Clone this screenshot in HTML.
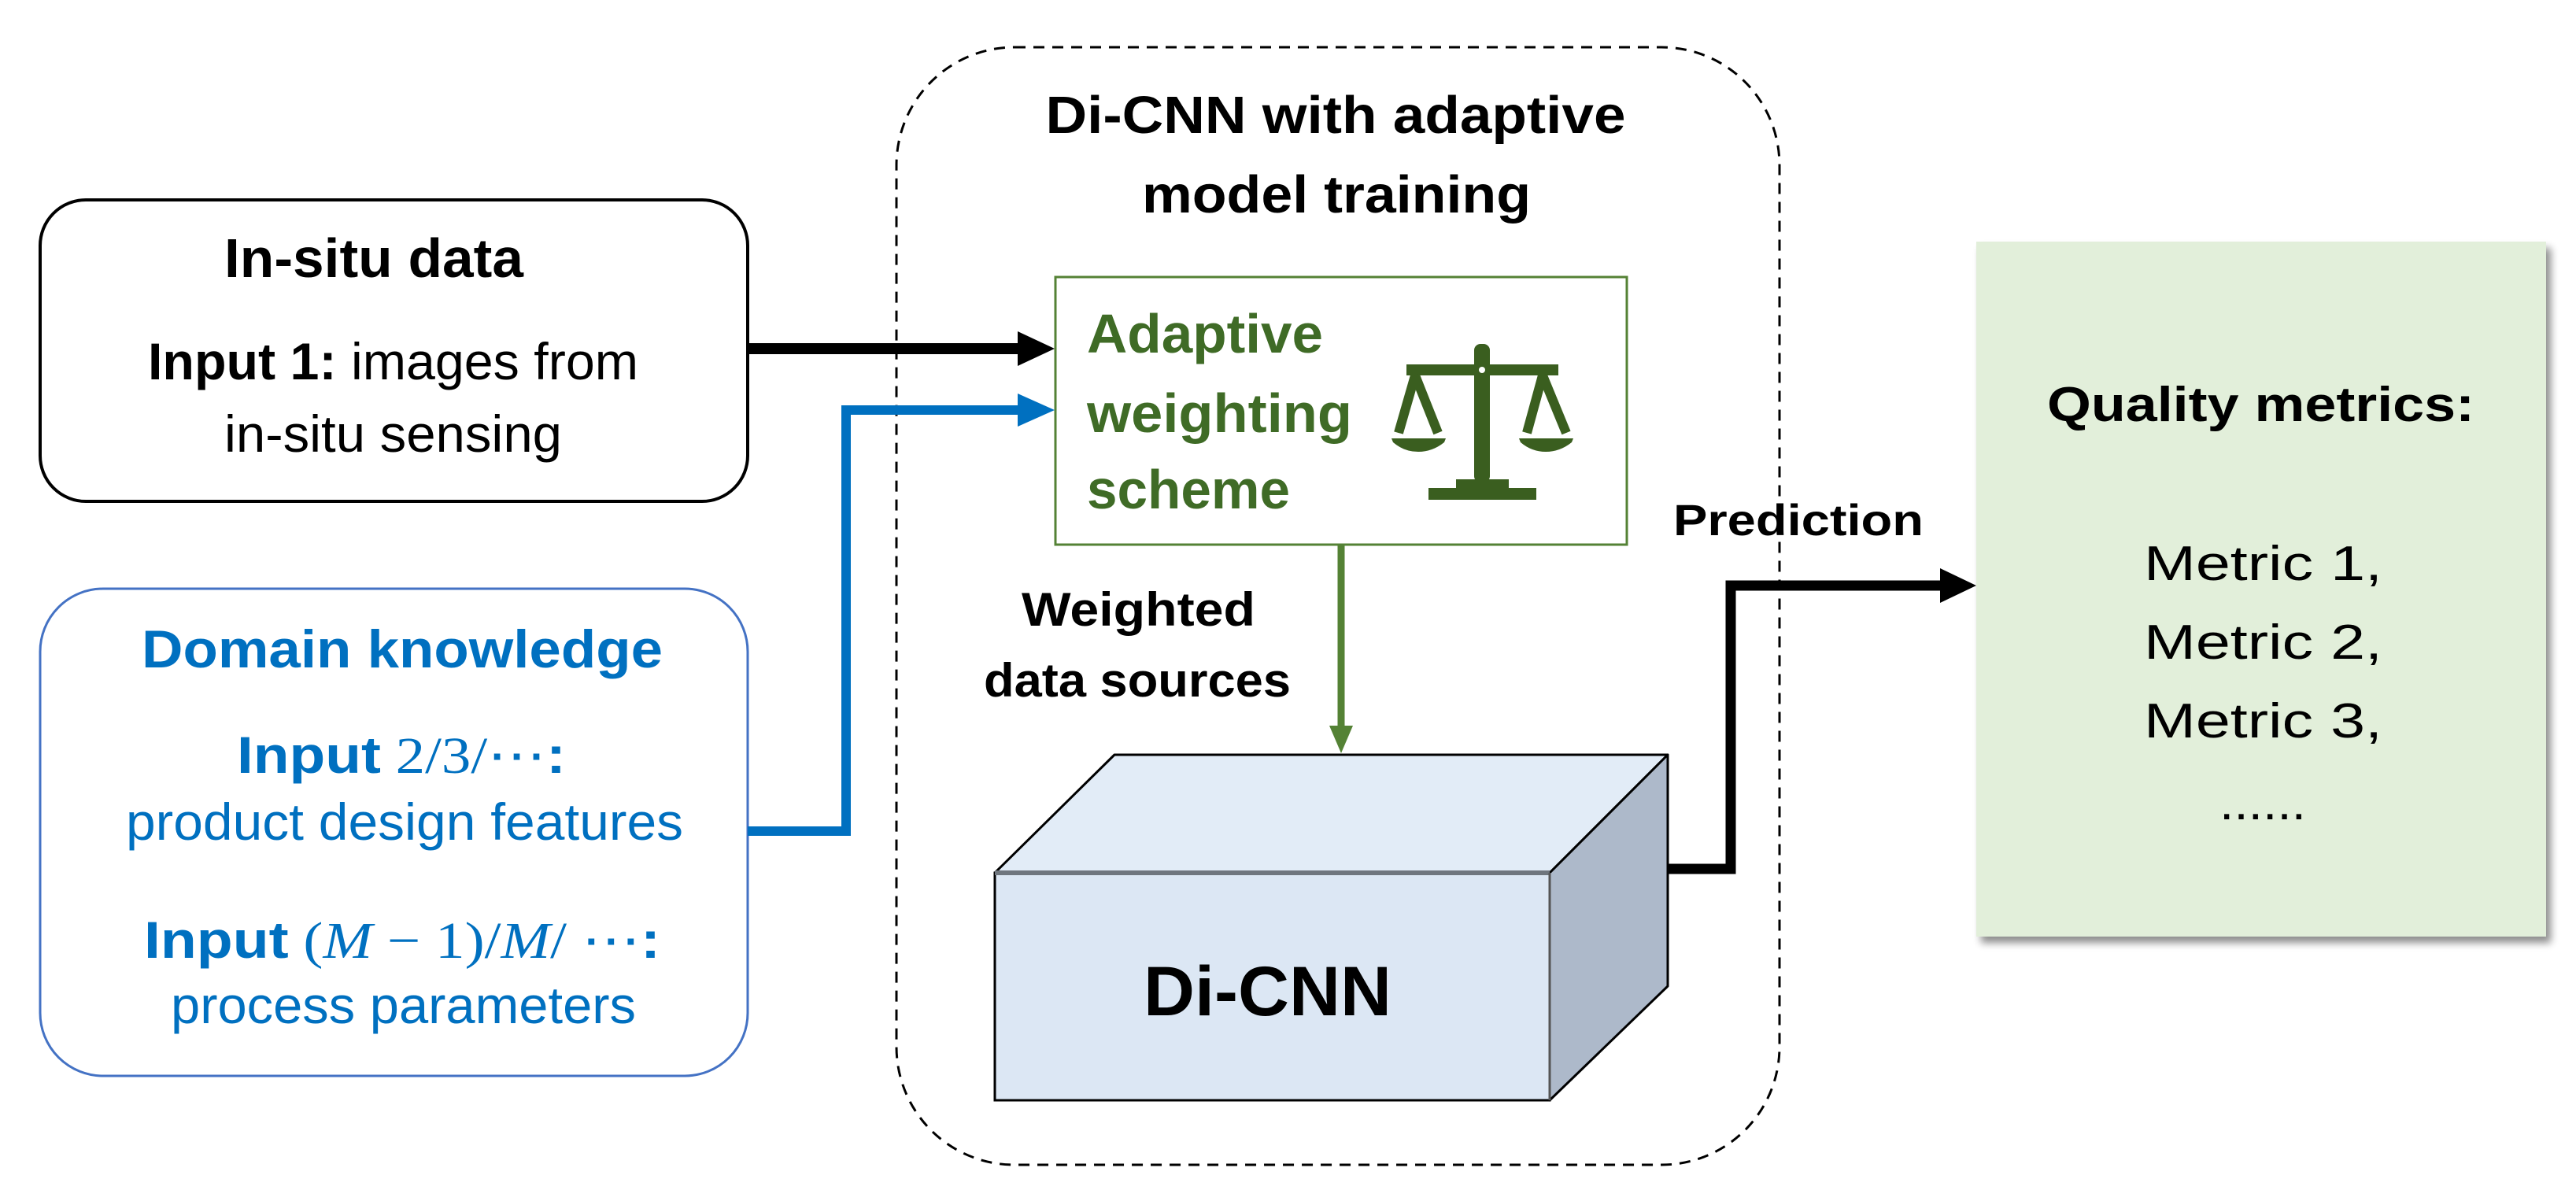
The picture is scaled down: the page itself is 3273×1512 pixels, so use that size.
<!DOCTYPE html>
<html><head><meta charset="utf-8"><style>
html,body{margin:0;padding:0;background:#fff;}
svg{display:block;}
text{font-family:"Liberation Sans",sans-serif;}
</style></head><body>
<svg width="3273" height="1512" viewBox="0 0 3273 1512" xmlns="http://www.w3.org/2000/svg">
<defs>
<filter id="sh" x="-5%" y="-5%" width="115%" height="115%">
<feGaussianBlur in="SourceAlpha" stdDeviation="5"/>
<feOffset dx="6" dy="8"/>
<feComponentTransfer><feFuncA type="linear" slope="0.45"/></feComponentTransfer>
<feMerge><feMergeNode/><feMergeNode in="SourceGraphic"/></feMerge>
</filter>
</defs>

<!-- Dashed container -->
<rect x="1139" y="60" width="1122" height="1420" rx="150" ry="150" fill="none" stroke="#000" stroke-width="3" stroke-dasharray="14,10"/>
<text x="1697" y="169" font-size="67" font-weight="bold" text-anchor="middle" textLength="737" lengthAdjust="spacingAndGlyphs">Di-CNN with adaptive</text>
<text x="1698" y="270" font-size="67" font-weight="bold" text-anchor="middle" textLength="494" lengthAdjust="spacingAndGlyphs">model training</text>

<!-- In-situ box -->
<rect x="51" y="254" width="899" height="383" rx="58" ry="58" fill="#fff" stroke="#000" stroke-width="4"/>
<text x="285" y="352" font-size="70" font-weight="bold" textLength="380" lengthAdjust="spacingAndGlyphs">In-situ  data</text>
<text x="188" y="482" font-size="66" textLength="623" lengthAdjust="spacingAndGlyphs"><tspan font-weight="bold">Input 1:</tspan> images from</text>
<text x="285" y="574" font-size="66" textLength="429" lengthAdjust="spacingAndGlyphs">in-situ sensing</text>

<!-- Domain knowledge box -->
<rect x="51" y="748" width="899" height="619" rx="80" ry="80" fill="#fff" stroke="#4472C4" stroke-width="3"/>
<text x="180" y="848" font-size="68" font-weight="bold" fill="#0070C0" textLength="662" lengthAdjust="spacingAndGlyphs">Domain  knowledge</text>
<text x="301" y="982" font-size="66" fill="#0070C0" textLength="418" lengthAdjust="spacingAndGlyphs"><tspan font-weight="bold">Input</tspan><tspan font-family="Liberation Serif,serif"> 2/3/⋯</tspan><tspan font-weight="bold">:</tspan></text>
<text x="160" y="1067" font-size="66" fill="#0070C0" textLength="708" lengthAdjust="spacingAndGlyphs">product design features</text>
<text x="183" y="1217" font-size="66" fill="#0070C0" textLength="656" lengthAdjust="spacingAndGlyphs"><tspan font-weight="bold">Input</tspan><tspan font-family="Liberation Serif,serif"> (<tspan font-style="italic">M</tspan> − 1)/<tspan font-style="italic">M</tspan>/ ⋯</tspan><tspan font-weight="bold">:</tspan></text>
<text x="217" y="1300" font-size="66" fill="#0070C0" textLength="591" lengthAdjust="spacingAndGlyphs">process parameters</text>

<!-- Black arrow in-situ -> green box -->
<line x1="950" y1="443" x2="1300" y2="443" stroke="#000" stroke-width="14"/>
<polygon points="1293,421 1340,443 1293,465" fill="#000"/>

<!-- Blue arrow -->
<polyline points="950,1056 1075,1056 1075,521 1300,521" fill="none" stroke="#0070C0" stroke-width="12"/>
<polygon points="1293,500 1340,521 1293,542" fill="#0070C0"/>

<!-- Green box -->
<rect x="1341" y="352" width="726" height="340" fill="#fff" stroke="#548235" stroke-width="3"/>
<text x="1381" y="448" font-size="70" font-weight="bold" fill="#3F6B26" textLength="300" lengthAdjust="spacingAndGlyphs">Adaptive</text>
<text x="1381" y="549" font-size="70" font-weight="bold" fill="#3F6B26" textLength="337" lengthAdjust="spacingAndGlyphs">weighting</text>
<text x="1381" y="646" font-size="70" font-weight="bold" fill="#3F6B26" textLength="258" lengthAdjust="spacingAndGlyphs">scheme</text>

<!-- Scale icon -->
<g fill="#3A5E1F" stroke="none">
<rect x="1873" y="437" width="20" height="176" rx="8"/>
<rect x="1787" y="463" width="193" height="14"/>
<circle cx="1883" cy="470" r="4" fill="#fff"/>
<path d="M1798,477 L1777,550" stroke="#3A5E1F" stroke-width="12"/>
<path d="M1798,477 L1827,550" stroke="#3A5E1F" stroke-width="12"/>
<path d="M1960,477 L1940,550" stroke="#3A5E1F" stroke-width="12"/>
<path d="M1960,477 L1990,550" stroke="#3A5E1F" stroke-width="12"/>
<path d="M1768,557 L1837,557 L1835,562 Q1820,574 1802,574 Q1784,574 1770,562 Z"/>
<path d="M1930,557 L1999,557 L1997,562 Q1982,574 1964,574 Q1946,574 1932,562 Z"/>
<rect x="1850" y="609" width="67" height="12"/>
<rect x="1815" y="620" width="137" height="15"/>
</g>

<!-- Green arrow down -->
<line x1="1704" y1="692" x2="1704" y2="925" stroke="#548235" stroke-width="9"/>
<polygon points="1689,922 1719,922 1704,957" fill="#548235"/>

<text x="1298" y="795" font-size="60" font-weight="bold" textLength="297" lengthAdjust="spacingAndGlyphs">Weighted</text>
<text x="1250" y="885" font-size="60" font-weight="bold" textLength="390" lengthAdjust="spacingAndGlyphs">data sources</text>

<!-- Cube -->
<polygon points="1264,1109 1416,959 2119,959 1969,1109" fill="#E2ECF7" stroke="#000" stroke-width="3" stroke-linejoin="round"/>
<polygon points="1969,1109 2119,959 2119,1253 1969,1398" fill="#ADB9CA" stroke="#000" stroke-width="3" stroke-linejoin="round"/>
<rect x="1264" y="1109" width="705" height="289" fill="#DCE7F4" stroke="#000" stroke-width="3"/>
<line x1="1264" y1="1109" x2="1969" y2="1109" stroke="#6F767E" stroke-width="6"/>
<line x1="1969" y1="1109" x2="1969" y2="1398" stroke="#555" stroke-width="3"/>
<text x="1453" y="1290" font-size="89" font-weight="bold" textLength="315" lengthAdjust="spacingAndGlyphs">Di-CNN</text>

<!-- Prediction arrow -->
<polyline points="2119,1104 2199,1104 2199,744 2470,744" fill="none" stroke="#000" stroke-width="13"/>
<polygon points="2465,722 2511,744 2465,766" fill="#000"/>
<text x="2126" y="680" font-size="56" font-weight="bold" textLength="318" lengthAdjust="spacingAndGlyphs">Prediction</text>

<!-- Quality metrics box -->
<rect x="2511" y="307" width="724" height="883" fill="#E2EFDA" filter="url(#sh)"/>
<text x="2601" y="535" font-size="62" font-weight="bold" textLength="543" lengthAdjust="spacingAndGlyphs">Quality  metrics:</text>
<text x="2724" y="737" font-size="62" textLength="303" lengthAdjust="spacingAndGlyphs">Metric 1,</text>
<text x="2724" y="837" font-size="62" textLength="303" lengthAdjust="spacingAndGlyphs">Metric 2,</text>
<text x="2724" y="937" font-size="62" textLength="303" lengthAdjust="spacingAndGlyphs">Metric 3,</text>
<text x="2820" y="1041" font-size="62" textLength="110" lengthAdjust="spacingAndGlyphs">......</text>
</svg>
</body></html>
